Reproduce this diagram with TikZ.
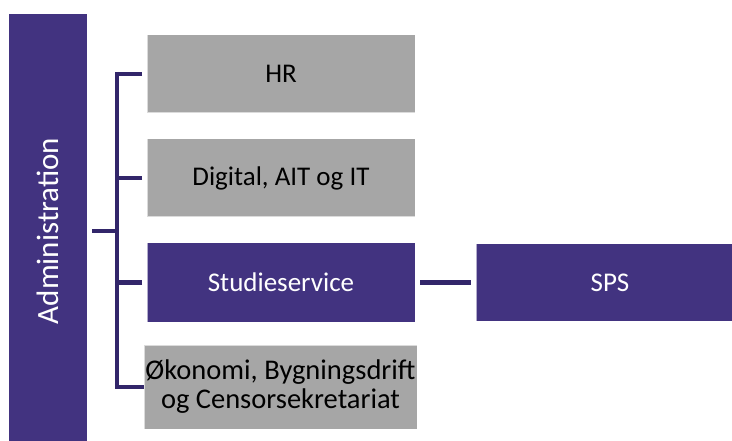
\documentclass[tikz,border=0pt]{standalone}
\usepackage{fontspec}
\setmainfont{Carlito}
\definecolor{purp}{RGB}{66,51,128}
\definecolor{conncol}{RGB}{50,38,106}
\definecolor{boxgray}{RGB}{166,166,166}
\begin{document}
\begin{tikzpicture}[x=1pt,y=-1pt,
  box/.style={rectangle, minimum width=268pt, minimum height=78pt, inner sep=0pt,
    outer xsep=5pt, outer ysep=0pt, draw=white, draw opacity=0.6, line width=1pt,
    font=\fontsize{27}{32}\selectfont, align=center},
  graybox/.style={box, fill=boxgray, text=black},
  purpbox/.style={box, fill=purp, text=white},
  conn/.style={draw=conncol, line width=4.5pt}]
\useasboundingbox (0,0) rectangle (732,441);
\fill[white] (0,0) rectangle (732,441);
\node[rectangle, fill=purp, minimum width=78pt, minimum height=434pt, inner sep=0pt,
  outer xsep=5pt, outer ysep=0pt, text=white, font=\fontsize{31}{36}\selectfont]
  (admin) at (48,231) {\rotatebox{90}{Administration}};
\node[graybox] (hr) at (281,74) {HR};
\node[graybox] (dig) at (281,178) {Digital, AIT og IT};
\node[purpbox, minimum height=79pt] (stud) at (281,282.5) {Studieservice};
\node[purpbox, minimum height=77pt] (sps) at (610,282.5) {SPS};
\node[graybox, minimum width=273pt, minimum height=84pt, outer xsep=0pt,
  font=\fontsize{28.5}{29}\selectfont] (oko) at (280.5,387) {Økonomi, Bygningsdrift\\og Censorsekretariat};
\coordinate (spinetop) at (117,72);
\coordinate (spinebot) at (117,389);
\draw[conn] (spinetop) -- (spinebot);
\draw[conn] (hr.west) -- (hr.west -| spinetop);
\draw[conn] (dig.west) -- (dig.west -| spinetop);
\draw[conn] (stud.west) -- (stud.west -| spinetop);
\draw[conn] (oko.west) -- (oko.west -| spinetop);
\draw[conn] (admin.east) -- (admin.east -| spinetop);
\draw[conn] (stud.east) -- (sps.west);
\end{tikzpicture}
\end{document}
